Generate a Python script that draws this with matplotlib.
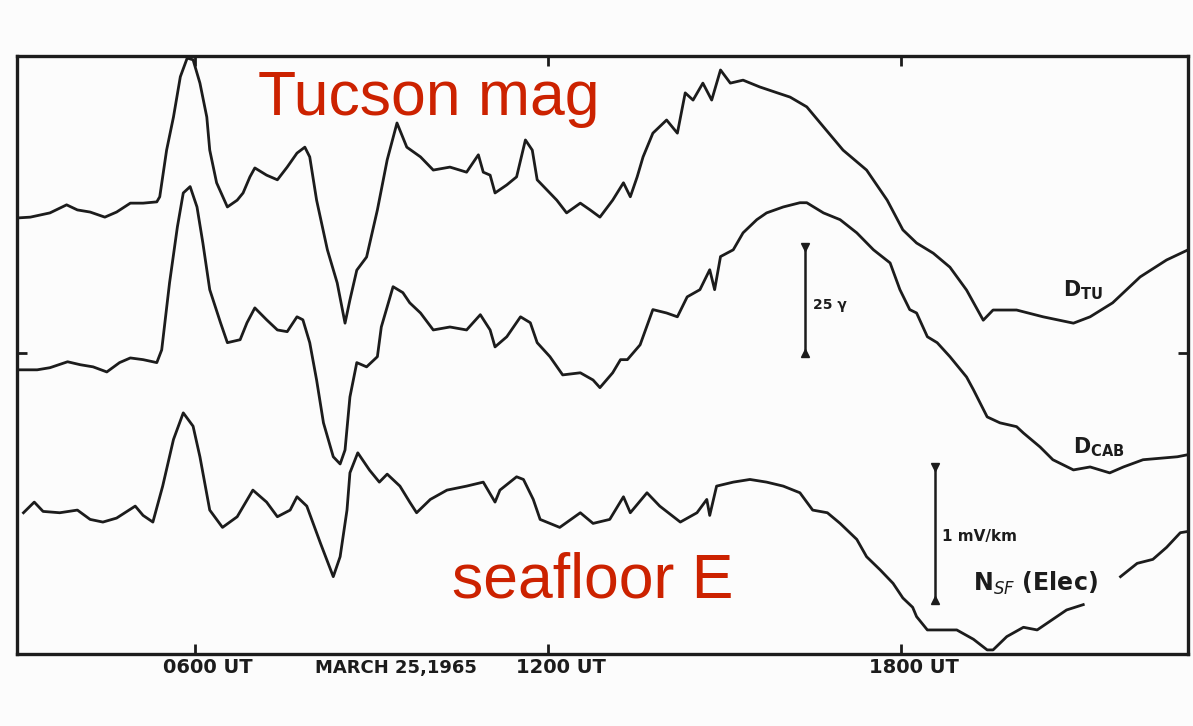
import numpy as np
import matplotlib
matplotlib.use('Agg')
import matplotlib.pyplot as plt

# 1) Traces, March 25 1965 -- time in minutes UT
# D at Tucson (gamma, relative to pre-storm level)
tu_min = [178, 192, 212, 229, 240, 253, 268, 280, 294, 307, 321, 324, 331, 338, 345,
          352, 358, 365, 372, 375, 382, 393, 403, 409, 416, 421, 433, 444, 454, 464,
          472, 477, 484, 495, 505, 513, 518, 525, 535, 546, 556, 566, 576, 590, 603,
          620, 637, 649, 654, 661, 666, 678, 688, 697, 704, 709, 719, 729, 739, 753,
          763, 773, 786, 797, 804, 811, 817, 827, 841, 852, 860, 868, 878, 887, 896,
          906, 919, 936, 954, 967, 984, 1001, 1021, 1045, 1066, 1082, 1096, 1113, 1130,
          1147, 1164, 1174, 1198, 1225, 1256, 1273, 1296, 1324, 1351, 1373]
tu_gamma = [0.0, 0.2, 1.2, 3.1, 1.9, 1.4, 0.2, 1.4, 3.5, 3.5, 3.8, 5.0, 16.0, 23.8, 33.3,
            37.7, 37.3, 31.8, 23.8, 16.0, 8.3, 2.6, 4.2, 5.9, 9.7, 11.8, 10.1, 9.0, 12.0, 15.3,
            16.7, 14.4, 4.2, -7.5, -15.3, -24.8, -19.3, -12.3, -9.2, 1.9, 13.7, 22.4, 16.7, 14.4, 11.3,
            12.0, 10.8, 14.9, 10.8, 10.1, 5.9, 7.8, 9.7, 18.4, 16.0, 9.0, 6.6, 4.2, 1.2, 3.5,
            1.9, 0.2, 4.2, 8.3, 5.0, 9.7, 14.4, 20.0, 23.1, 20.0, 29.5, 27.8, 31.8, 27.8, 34.9,
            31.8, 32.5, 30.9, 29.5, 28.5, 26.2, 21.5, 16.0, 11.3, 4.2, -2.8, -5.9, -8.3, -11.6,
            -17.0, -24.1, -21.7, -21.7, -23.3, -24.8, -23.3, -20.0, -13.9, -9.9, -7.5]

# D at the cable station (gamma)
cab_min = [178, 199, 212, 230, 243, 256, 270, 283, 294, 307, 321, 326, 334, 342, 348,
           355, 362, 368, 375, 386, 393, 406, 413, 421, 433, 444, 454, 464, 470, 477,
           484, 491, 501, 508, 513, 518, 525, 535, 546, 550, 562, 572, 579, 590, 603,
           620, 637, 651, 661, 666, 678, 692, 702, 709, 722, 735, 753, 766, 773, 786,
           794, 801, 814, 827, 841, 852, 862, 875, 885, 890, 896, 909, 919, 933, 943,
           960, 977, 984, 1001, 1018, 1035, 1052, 1069, 1079, 1089, 1096, 1107, 1117, 1130,
           1147, 1154, 1168, 1181, 1198, 1205, 1222, 1235, 1256, 1273, 1293, 1307, 1327,
           1347, 1362, 1373]
cab_gamma = [0.0, 0.0, 0.5, 1.9, 1.2, 0.7, -0.5, 1.7, 2.8, 2.4, 1.7, 4.7, 20.5, 33.7, 41.7,
             43.2, 38.4, 29.9, 18.9, 11.1, 6.4, 7.1, 11.1, 14.6, 11.8, 9.4, 9.0, 12.5, 11.8, 6.4,
             -2.4, -12.5, -20.5, -22.2, -18.9, -6.4, 1.7, 0.7, 3.1, 10.1, 19.6, 18.2, 15.8, 13.4, 9.4,
             10.1, 9.4, 13.0, 9.4, 5.4, 7.8, 12.5, 11.1, 6.4, 3.1, -1.2, -0.7, -2.4, -4.2, -0.7,
             2.4, 2.4, 5.9, 14.2, 13.4, 12.5, 17.2, 18.9, 23.6, 18.9, 26.7, 28.3, 32.3, 35.4, 37.0,
             38.4, 39.4, 39.4, 37.0, 35.4, 32.3, 28.3, 25.2, 18.9, 14.2, 13.4, 7.8, 6.4, 3.1,
             -1.7, -4.7, -11.1, -12.5, -13.4, -14.9, -18.2, -21.2, -23.6, -22.9, -24.3, -22.9, -21.2,
             -20.8, -20.5, -20.0]

# North electric field on the seafloor (mV/km); pen lifted under the label
sf_min = [185, 196, 205, 222, 240, 253, 266, 280, 299, 307, 317, 327, 338, 348, 358,
          365, 375, 388, 403, 419, 433, 444, 457, 464, 474, 488, 501, 508, 515, 518,
          526, 538, 548, 556, 569, 579, 586, 600, 617, 637, 654, 666, 671, 688, 695,
          705, 712, 732, 753, 766, 783, 797, 804, 821, 834, 855, 872, 882, 885, 892,
          909, 926, 943, 960, 977, 990, 1005, 1018, 1035, 1045, 1059, 1072, 1082, 1092,
          1096, 1107, 1120, 1137, 1154, 1168, 1174, 1188, 1205, 1219, 1235, 1249, 1266,
          1285, 1304, 1321, 1337, 1351, 1365, 1373]
sf_mv = [0.0, 0.08, 0.01, 0.0, 0.02, -0.05, -0.07, -0.04, 0.05, -0.02, -0.07, 0.20, 0.55, 0.75, 0.65,
         0.42, 0.02, -0.11, -0.03, 0.17, 0.08, -0.03, 0.02, 0.12, 0.05, -0.23, -0.48, -0.33, 0.02, 0.30,
         0.45, 0.32, 0.23, 0.29, 0.20, 0.08, 0.0, 0.10, 0.17, 0.20, 0.23, 0.08, 0.17, 0.27, 0.25,
         0.10, -0.05, -0.11, 0.0, -0.08, -0.05, 0.12, 0.0, 0.15, 0.05, -0.07, 0.0, 0.10, -0.02, 0.20,
         0.23, 0.25, 0.23, 0.20, 0.15, 0.02, 0.0, -0.08, -0.20, -0.33, -0.43, -0.53, -0.64, -0.71,
         -0.78, -0.88, -0.88, -0.88, -0.95, -1.03, -1.03, -0.93, -0.86, -0.88, -0.80, -0.73, -0.69,
         np.nan, -0.48, -0.38, -0.35, -0.26, -0.15, -0.14]

tick_min = [360, 720, 1080]
tick_lab = ['0600 UT', '1200 UT', '1800 UT']
date_lab = 'MARCH 25,1965'

# 2) Layout: vertical offsets of each trace, E scaled to gamma units
TU_BASE = 102.8
CAB_BASE = 67.0
SF_BASE = 33.3
E_SCALE = 31.4          # plot units per mV/km
INK = '#1c1c1c'
RED = '#cc2200'

fig = plt.figure(figsize=(11.93, 7.26), dpi=100, facecolor='#fcfcfc')
ax = fig.add_axes([0.01425, 0.0992, 0.9816, 0.8237])
ax.set_facecolor('#fcfcfc')

ax.plot(tu_min, np.array(tu_gamma) + TU_BASE, color=INK, lw=2.0, solid_joinstyle='round')
ax.plot(cab_min, np.array(cab_gamma) + CAB_BASE, color=INK, lw=2.0, solid_joinstyle='round')
ax.plot(sf_min, np.array(sf_mv) * E_SCALE + SF_BASE, color=INK, lw=2.0, solid_joinstyle='round')

# 3) Scale bars
bar_g = (982, 71.0)
ax.plot([bar_g[0]] * 2, [bar_g[1], bar_g[1] + 25], color=INK, lw=1.8)
ax.plot(bar_g[0], bar_g[1] + 25, marker='v', color=INK, ms=6)
ax.plot(bar_g[0], bar_g[1], marker='^', color=INK, ms=6)
ax.text(bar_g[0] + 8, bar_g[1] + 11.3, '25 γ', fontsize=10, fontweight='bold',
        color=INK, va='center', ha='left')

bar_e = (1115, 12.7)
ax.plot([bar_e[0]] * 2, [bar_e[1], bar_e[1] + 1 * E_SCALE], color=INK, lw=1.8)
ax.plot(bar_e[0], bar_e[1] + E_SCALE, marker='v', color=INK, ms=6)
ax.plot(bar_e[0], bar_e[1], marker='^', color=INK, ms=6)
ax.text(bar_e[0] + 7, bar_e[1] + 14.9, '1 mV/km', fontsize=11, fontweight='bold',
        color=INK, va='center', ha='left')

# 4) Trace labels
ax.text(1245, 85.8, r'$\mathbf{D}_{\mathbf{TU}}$', fontsize=15, color=INK, va='center')
ax.text(1256, 48.8, r'$\mathbf{D}_{\mathbf{CAB}}$', fontsize=15, color=INK, va='center')
ax.text(1154, 16.7, r'$\mathbf{N}_{SF}$ (Elec)', fontsize=17, fontweight='bold',
        color=INK, va='center')

ax.text(424, 127.1, 'Tucson mag', fontsize=45, color=RED, family='Liberation Sans',
        va='baseline', ha='left')
ax.text(622, 13.2, 'seafloor E', fontsize=45, color=RED, family='Liberation Sans',
        va='baseline', ha='left')

# 5) Frame, ticks and time labels
ax.set_xlim(178.4, 1372.9)
ax.set_ylim(0, 141)
for s in ax.spines.values():
    s.set_linewidth(2.4)
    s.set_color(INK)
ax.set_xticks(tick_min)
ax.set_yticks([71.0])
ax.tick_params(direction='in', length=7, width=2, color=INK,
               top=True, right=True, labelbottom=False, labelleft=False)

for t, lab in zip(tick_min, tick_lab):
    ax.annotate(lab, xy=(t, 0), xytext=(-23, -10), textcoords='offset points',
                ha='left', va='center', fontsize=14, fontweight='bold', color=INK)
ax.annotate(date_lab, xy=(565, 0), xytext=(0, -10), textcoords='offset points',
            ha='center', va='center', fontsize=13, fontweight='bold', color=INK)

fig.savefig('out.png', dpi=100, facecolor=fig.get_facecolor())
